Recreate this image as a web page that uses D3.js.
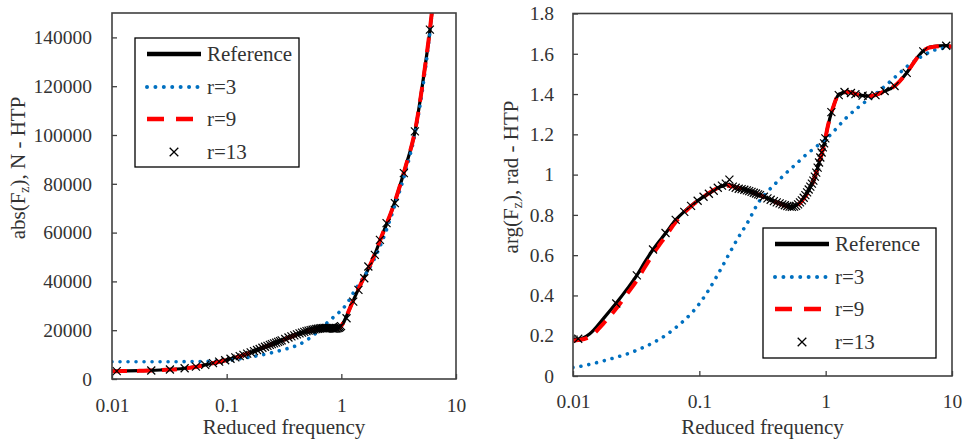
<!DOCTYPE html>
<html>
<head>
<meta charset="utf-8">
<script src="https://cdn.jsdelivr.net/npm/d3@7"></script>
<style>
  body { margin: 0; background: #fff; }
  svg { display: block; font-family: "Liberation Serif", "Times New Roman", serif; }
</style>
</head>
<body>
<svg id="chart" width="967" height="446"></svg>
<script>
// frequency grid of the continuous curves
const lineF = [0.01, 0.011, 0.0136, 0.0174, 0.022, 0.027, 0.032, 0.037, 0.043, 0.055, 0.065, 0.077, 0.092, 0.114,
  0.136, 0.17, 0.2, 0.24, 0.3, 0.34, 0.43, 0.52, 0.6, 0.66, 0.79, 0.89, 0.98, 1.04, 1.14, 1.28, 1.5, 1.86, 2.25,
  2.83, 3.63, 4.37, 5.37, 5.86, 7.0, 9.0, 10];

// abs(Fz), N
const absRef = [3200, 3250, 3300, 3400, 3500, 3700, 3900, 4100, 4400, 5100, 5800, 6600, 7400, 8600,
  9700, 11300, 12700, 14100, 15800, 16900, 18700, 19900, 20500, 20800, 20900, 20700, 21300, 23000, 27000, 32500,
  39500, 48500, 58500, 70500, 87000, 101000, 128000, 141000, 175000, 230000, 260000];
const absR3 = [7100, 7100, 7100, 7100, 7100, 7100, 7100, 7100, 7120, 7150, 7200, 7300, 7500, 7900,
  8400, 9200, 9800, 10600, 11800, 12500, 14200, 16500, 18800, 20500, 24000, 26000, 27800, 29000, 31500, 35500,
  40500, 47500, 56000, 69000, 85000, 100000, 126000, 140000, 176000, 232000, 262000];
const absR9 = [3150, 3200, 3250, 3350, 3450, 3650, 3850, 4050, 4350, 5050, 5750, 6550, 7350, 8500,
  9600, 11200, 12600, 14000, 15700, 16800, 18600, 19800, 20400, 20700, 20850, 20700, 21300, 23000, 27000, 32600,
  39600, 48700, 58600, 70600, 87000, 101200, 128000, 141500, 176000, 231000, 261000];

// arg(Fz), rad
const argRef = [0.185, 0.183, 0.21, 0.285, 0.362, 0.435, 0.5, 0.565, 0.628, 0.715, 0.775, 0.82, 0.86, 0.9,
  0.93, 0.95, 0.935, 0.922, 0.898, 0.884, 0.857, 0.841, 0.85, 0.878, 0.963, 1.062, 1.16, 1.24, 1.33, 1.4,
  1.41, 1.395, 1.39, 1.41, 1.447, 1.505, 1.585, 1.612, 1.636, 1.64, 1.636];
const argR3 = [0.043, 0.046, 0.058, 0.075, 0.093, 0.11, 0.128, 0.145, 0.165, 0.205, 0.24, 0.28, 0.33, 0.41,
  0.49, 0.6, 0.68, 0.76, 0.87, 0.91, 0.975, 1.025, 1.06, 1.085, 1.125, 1.15, 1.17, 1.185, 1.21, 1.245,
  1.29, 1.34, 1.38, 1.43, 1.49, 1.535, 1.575, 1.59, 1.615, 1.63, 1.635];
const argR9 = [0.175, 0.178, 0.195, 0.26, 0.335, 0.41, 0.475, 0.54, 0.605, 0.7, 0.765, 0.815, 0.858, 0.9,
  0.93, 0.945, 0.935, 0.922, 0.898, 0.884, 0.857, 0.841, 0.85, 0.876, 0.96, 1.06, 1.16, 1.24, 1.33, 1.4,
  1.41, 1.395, 1.39, 1.41, 1.447, 1.505, 1.585, 1.612, 1.634, 1.638, 1.635];

// r=13 markers
const mkF = [0.011, 0.022, 0.032, 0.043, 0.054, 0.065, 0.076, 0.086, 0.097, 0.108, 0.119, 0.13, 0.14, 0.151,
  0.162, 0.173, 0.184, 0.194, 0.205, 0.216, 0.227, 0.238, 0.248, 0.259, 0.27, 0.281, 0.292, 0.302,
  0.324, 0.346, 0.367, 0.389, 0.41, 0.432, 0.454, 0.475, 0.497, 0.518, 0.54, 0.562, 0.583, 0.605, 0.626, 0.648,
  0.67, 0.691, 0.713, 0.734, 0.756, 0.778, 0.799, 0.821, 0.842, 0.864, 0.886, 0.907, 0.929, 0.95, 0.972, 0.994,
  1.11, 1.27, 1.41, 1.585, 1.72, 1.96, 2.17, 2.48, 2.93, 3.51, 4.38, 5.92, 9.0];
const absR13 = [3250, 3500, 3900, 4400, 5050, 5800, 6500, 7100, 7700, 8300, 8850, 9400, 9900, 10400,
  10900, 11400, 11900, 12300, 12800, 13200, 13600, 14000, 14300, 14600, 14900, 15200, 15500, 15800,
  16400, 17000, 17500, 17900, 18300, 18700, 19000, 19300, 19600, 19850, 20050, 20200, 20350, 20500, 20600, 20700,
  20800, 20850, 20900, 20900, 20900, 20900, 20850, 20800, 20700, 20650, 20650, 20700, 20850, 21000, 21300, 21700,
  24900, 31700, 36500, 41300, 46100, 50900, 57000, 63900, 72100, 84400, 101500, 143200, 230000];
const argR13 = [0.185, 0.36, 0.5, 0.628, 0.71, 0.775, 0.815, 0.845, 0.87, 0.89, 0.905, 0.92, 0.935, 0.945,
  0.955, 0.975, 0.94, 0.935, 0.93, 0.928, 0.925, 0.922, 0.918, 0.914, 0.91, 0.906, 0.902, 0.898,
  0.89, 0.882, 0.875, 0.868, 0.862, 0.857, 0.852, 0.848, 0.844, 0.841, 0.84, 0.841, 0.845, 0.852, 0.862, 0.872,
  0.885, 0.898, 0.912, 0.926, 0.94, 0.955, 0.97, 0.99, 1.01, 1.035, 1.06, 1.085, 1.11, 1.135, 1.155, 1.18,
  1.31, 1.395, 1.41, 1.405, 1.4, 1.392, 1.39, 1.395, 1.415, 1.44, 1.505, 1.612, 1.64];

const freqTicks = [0.01, 0.1, 1, 10];
const absTicks = [0, 20000, 40000, 60000, 80000, 100000, 120000, 140000];
const argTicks = [0, 0.2, 0.4, 0.6, 0.8, 1, 1.2, 1.4, 1.6, 1.8];
const seriesNames = ["Reference", "r=3", "r=9", "r=13"];

const svg = d3.select("#chart");
const textColor = "#333";

const styles = {
  ref: { stroke: "#000", width: 3.2, dash: null, cap: "butt" },
  r3: { stroke: "#0070C0", width: 3.6, dash: "0.01,8", cap: "round" },
  r9: { stroke: "#FF0000", width: 4, dash: "15,10", cap: "butt" }
};

function crossPath(s) {
  return `M${-s},${-s}L${s},${s}M${-s},${s}L${s},${-s}`;
}

function drawPanel(p) {
  const x = d3.scaleLog().domain([0.01, 10]).range([p.left, p.right]);
  const y = d3.scaleLinear().domain(p.yDomain).range([p.bottom, p.top]);
  const g = svg.append("g");

  g.append("clipPath").attr("id", p.id + "clip")
    .append("rect")
    .attr("x", p.left).attr("y", p.top)
    .attr("width", p.right - p.left).attr("height", p.bottom - p.top);

  const plot = g.append("g").attr("clip-path", `url(#${p.id}clip)`);

  const line = d3.line()
    .x(d => x(d[0]))
    .y(d => y(d[1]))
    .curve(d3.curveMonotoneX);

  [["ref", p.ref], ["r3", p.r3], ["r9", p.r9]].forEach(([k, vals]) => {
    const st = styles[k];
    plot.append("path")
      .datum(lineF.map((f, i) => [f, vals[i]]))
      .attr("d", line)
      .attr("fill", "none")
      .attr("stroke", st.stroke)
      .attr("stroke-width", st.width)
      .attr("stroke-linecap", st.cap)
      .attr("stroke-dasharray", st.dash);
  });

  plot.selectAll(".mk")
    .data(mkF.map((f, i) => [f, p.r13[i]]))
    .enter()
    .append("path")
    .attr("class", "mk")
    .attr("transform", d => `translate(${x(d[0])},${y(d[1])})`)
    .attr("d", crossPath(4))
    .attr("fill", "none")
    .attr("stroke", "#000")
    .attr("stroke-width", 1.2);

  // axes, ticks pointing inwards
  const yAxis = g.append("g")
    .attr("transform", `translate(${p.left},0)`)
    .call(d3.axisLeft(y).tickValues(p.yTicks).tickSize(-5).tickPadding(p.yPad).tickFormat(d => String(d)));
  yAxis.selectAll("text").attr("x", -p.yPad).attr("text-anchor", "end");

  const xAxis = g.append("g")
    .attr("transform", `translate(0,${p.bottom})`)
    .call(d3.axisBottom(x).tickValues(freqTicks).tickSize(-5).tickPadding(p.xPad).tickFormat(d => String(d)));

  [yAxis, xAxis].forEach(a => {
    a.select(".domain").remove();
    a.selectAll("line").attr("stroke", "#404040").attr("stroke-width", 1.3);
    a.selectAll("text")
      .attr("fill", textColor)
      .style("font-size", "19.5px")
      .style("font-family", "Liberation Serif, serif");
  });

  g.append("rect")
    .attr("x", p.left).attr("y", p.top)
    .attr("width", p.right - p.left).attr("height", p.bottom - p.top)
    .attr("fill", "none")
    .attr("stroke", "#404040")
    .attr("stroke-width", 1.6);

  // axis titles
  g.append("text")
    .attr("x", (p.left + p.right) / 2)
    .attr("y", 434)
    .attr("text-anchor", "middle")
    .attr("fill", textColor)
    .style("font-size", "21px")
    .text("Reduced frequency");

  const yt = g.append("text")
    .attr("transform", `translate(${p.yTitleX},${p.yTitleY}) rotate(-90)`)
    .attr("text-anchor", "middle")
    .attr("fill", textColor)
    .style("font-size", "21px");
  yt.append("tspan").text(p.yTitle[0] + "(F");
  yt.append("tspan").attr("dy", 4).style("font-size", "14px").text("z");
  yt.append("tspan").attr("dy", -4).text(")" + p.yTitle[1]);

  // legend
  const lg = g.append("g").attr("transform", `translate(${p.legend.x},${p.legend.y})`);
  lg.append("rect")
    .attr("width", p.legend.w).attr("height", p.legend.h)
    .attr("fill", "#fff")
    .attr("stroke", "#000")
    .attr("stroke-width", 1.3);

  const rowY = [16, 49, 81, 114];
  const keys = ["ref", "r3", "r9"];
  seriesNames.forEach((name, i) => {
    const ry = rowY[i];
    if (i < 3) {
      const st = styles[keys[i]];
      lg.append("line")
        .attr("x1", 12).attr("x2", i === 1 ? 63 : 66)
        .attr("y1", ry).attr("y2", ry)
        .attr("stroke", st.stroke)
        .attr("stroke-width", i === 0 ? 4.5 : st.width + 0.4)
        .attr("stroke-linecap", st.cap)
        .attr("stroke-dasharray", i === 2 ? "17,12" : (i === 1 ? "0.01,8.4" : null));
    } else {
      lg.append("path")
        .attr("transform", `translate(39,${ry})`)
        .attr("d", crossPath(4.3))
        .attr("fill", "none")
        .attr("stroke", "#000")
        .attr("stroke-width", 1.3);
    }
    lg.append("text")
      .attr("x", 72)
      .attr("y", ry + 7)
      .attr("fill", textColor)
      .style("font-size", "21px")
      .text(name);
  });
}

drawPanel({
  id: "abs", left: 112, right: 456, top: 13, bottom: 379,
  yDomain: [0, 150000], yTicks: absTicks, yPad: 20, xPad: 19.5,
  ref: absRef, r3: absR3, r9: absR9, r13: absR13,
  yTitle: ["abs", ", N - HTP"], yTitleX: 25, yTitleY: 168,
  legend: { x: 135, y: 38, w: 164, h: 129 }
});

drawPanel({
  id: "arg", left: 573, right: 952, top: 13.5, bottom: 376,
  yDomain: [0, 1.8], yTicks: argTicks, yPad: 19, xPad: 18.5,
  ref: argRef, r3: argR3, r9: argR9, r13: argR13,
  yTitle: ["arg", ", rad - HTP"], yTitleX: 518, yTitleY: 177,
  legend: { x: 763, y: 228, w: 173, h: 130 }
});
</script>
</body>
</html>
